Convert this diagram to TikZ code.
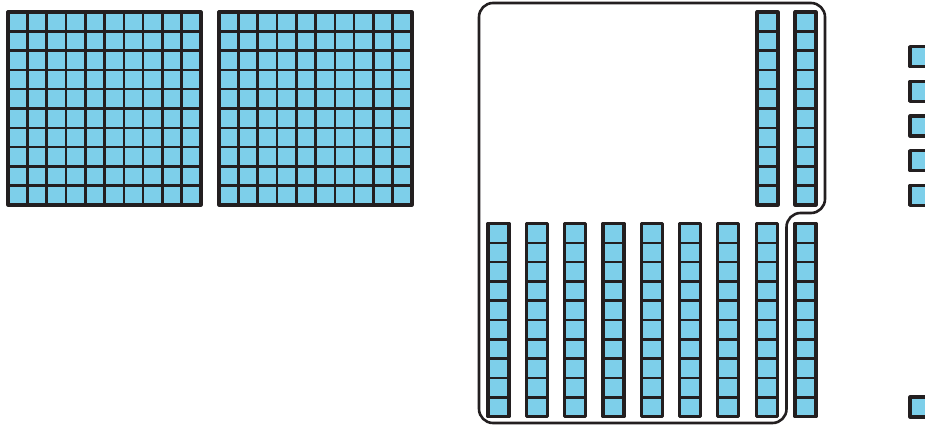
\documentclass[tikz,border=0pt]{standalone}
\definecolor{cubefill}{HTML}{7DCFEA}
\definecolor{ink}{HTML}{231F20}
\tikzset{
  gridline/.style={draw=ink, line width=2.6pt},
  blockedge/.style={draw=ink, line width=3.2pt, line join=round},
  outline/.style={draw=ink, line width=2.6pt, rounded corners=14pt},
  hundred/.pic={
    \fill[cubefill] (0,0) rectangle (193,193);
    \foreach \k in {1,...,9} {
      \path[gridline] ({\k*19.3},0) -- ({\k*19.3},193);
      \path[gridline] (0,{\k*19.3}) -- (193,{\k*19.3});
    }
    \path[blockedge] (0,0) rectangle (193,193);
  },
  ten/.pic={
    \fill[cubefill] (0,0) rectangle (21,193);
    \foreach \k in {1,...,9} {
      \path[gridline] (0,{\k*19.3}) -- (21,{\k*19.3});
    }
    \path[blockedge] (0,0) rectangle (21,193);
  },
  one/.pic={
    \fill[cubefill] (0,0) rectangle (20,20);
    \path[blockedge] (0,0) rectangle (20,20);
  }
}
\begin{document}
\begin{tikzpicture}[x=1pt,y=-1pt]
\clip (0,0) rectangle (925,425);
\fill[white] (0,0) rectangle (925,425);
% hundreds
\pic at (8,12) {hundred};
\pic at (219,12) {hundred};
% outline
\path[outline] (479,200) -- (479,423) -- (786.5,423) -- (786.5,213) -- (825,213) -- (825,3) -- (479,3) -- cycle;
% tens, top
\pic at (757,12) {ten};
\pic at (795,12) {ten};
% tens, bottom
\foreach \i in {0,...,7} {
  \pic at ({488+\i*38.3},223.5) {ten};
}
\pic at (795,223.5) {ten};
% ones
\foreach \y in {46.7,81.3,116,150.7,185.3,397} {
  \pic at (910,\y) {one};
}
\end{tikzpicture}
\end{document}
